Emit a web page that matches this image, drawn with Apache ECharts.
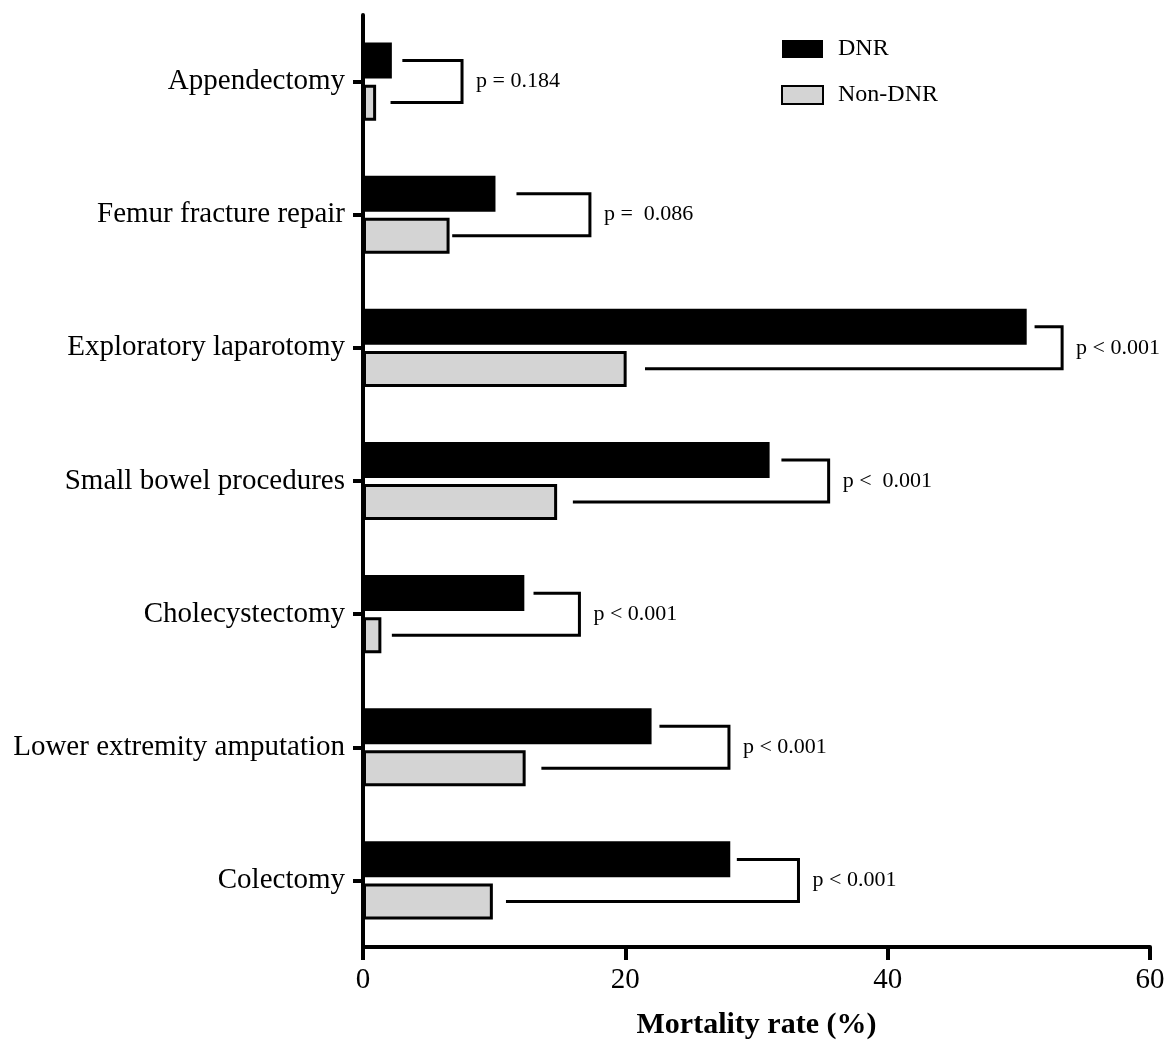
<!DOCTYPE html>
<html>
<head>
<meta charset="utf-8">
<script src="https://cdn.jsdelivr.net/npm/echarts@6/dist/echarts.min.js"></script>
<style>
html,body{margin:0;padding:0;background:#fff;}
#chart{width:1168px;height:1042px;}
</style>
</head>
<body>
<div id="chart"></div>
<script>
var categories = ['Appendectomy','Femur fracture repair','Exploratory laparotomy','Small bowel procedures','Cholecystectomy','Lower extremity amputation','Colectomy'];
var dnrValues = [2.2, 10.1, 50.6, 31.0, 12.3, 22.0, 28.0];
var nonDnrValues = [1.0, 6.6, 20.1, 14.8, 1.4, 12.4, 9.9];
var pLabels = ['p = 0.184','p =  0.086','p < 0.001','p <  0.001','p < 0.001','p < 0.001','p < 0.001'];
var bracketTopStart = [3.0, 11.7, 51.2, 31.9, 13.0, 22.6, 28.5];
var bracketBottomStart = [2.1, 6.8, 21.5, 16.0, 2.2, 13.6, 10.9];
var bracketEnd = [7.55, 17.3, 53.3, 35.5, 16.5, 27.9, 33.2];
var xTicks = [0, 20, 40, 60];

var FONT = '"Liberation Serif", "Times New Roman", serif';
var bracketData = categories.map(function (c, i) {
  return [i, bracketTopStart[i], bracketBottomStart[i], bracketEnd[i]];
});

var chart = echarts.init(document.getElementById('chart'));
chart.setOption({
  animation: false,
  backgroundColor: '#fff',
  grid: { left: 363, right: 18, top: 15, bottom: 95, containLabel: false, outerBoundsMode: 'none' },
  legend: {
    orient: 'vertical',
    left: 776,
    top: 32,
    itemWidth: 41,
    itemHeight: 18,
    itemGap: 22,
    data: [{ name: 'DNR', icon: 'rect' }, { name: 'Non-DNR', icon: 'rect' }],
    textStyle: { fontFamily: FONT, fontSize: 24, color: '#000', padding: [0, 0, 0, 10] }
  },
  xAxis: {
    type: 'value',
    min: xTicks[0],
    max: xTicks[xTicks.length - 1],
    interval: 20,
    name: 'Mortality rate (%)',
    nameLocation: 'middle',
    nameGap: 63,
    nameTextStyle: { fontFamily: FONT, fontSize: 30, fontWeight: 'bold', color: '#000' },
    axisLine: { show: true, lineStyle: { color: '#000', width: 4 } },
    axisTick: { show: true, length: 13, lineStyle: { color: '#000', width: 4 } },
    axisLabel: { fontFamily: FONT, fontSize: 29, color: '#000', margin: 19 },
    splitLine: { show: false }
  },
  yAxis: {
    type: 'category',
    data: categories,
    inverse: true,
    axisLine: { show: true, onZero: false, lineStyle: { color: '#000', width: 4 } },
    axisTick: { show: true, alignWithLabel: true, length: 10, lineStyle: { color: '#000', width: 4 } },
    axisLabel: { fontFamily: FONT, fontSize: 29, color: '#000', margin: 18 },
    splitLine: { show: false }
  },
  series: [
    {
      name: 'DNR',
      type: 'bar',
      data: dnrValues,
      barWidth: 36,
      barGap: '17%',
      itemStyle: { color: '#000', borderColor: '#000', borderWidth: 0 }
    },
    {
      name: 'Non-DNR',
      type: 'bar',
      data: nonDnrValues,
      barWidth: 36,
      barGap: '17%',
      itemStyle: { color: '#d4d4d4', borderColor: '#000', borderWidth: 3 }
    },
    {
      name: 'brackets',
      type: 'custom',
      clip: false,
      silent: true,
      data: bracketData,
      encode: { x: [1, 2, 3], y: 0 },
      renderItem: function (params, api) {
        var idx = api.value(0);
        var center = api.coord([0, idx])[1];
        var yTop = center - 21;
        var yBot = center + 21;
        var xTop = api.coord([api.value(1), idx])[0];
        var xBot = api.coord([api.value(2), idx])[0];
        var xEnd = api.coord([api.value(3), idx])[0];
        return {
          type: 'group',
          children: [
            {
              type: 'polyline',
              shape: { points: [[xTop, yTop], [xEnd, yTop], [xEnd, yBot], [xBot, yBot]] },
              style: { stroke: '#000', lineWidth: 3, fill: null, lineJoin: 'miter' }
            },
            {
              type: 'text',
              style: {
                text: pLabels[idx],
                x: xEnd + 14,
                y: center,
                fill: '#000',
                font: '22px ' + FONT,
                verticalAlign: 'middle',
                align: 'left'
              }
            }
          ]
        };
      }
    }
  ]
});
</script>
</body>
</html>
